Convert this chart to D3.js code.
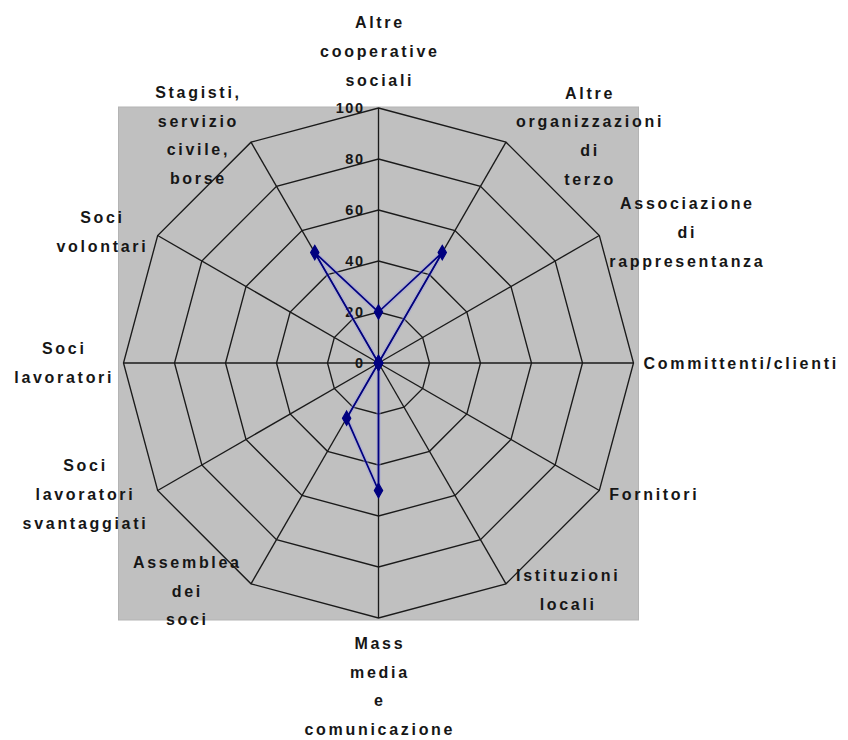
<!DOCTYPE html>
<html>
<head>
<meta charset="utf-8">
<script src="https://cdn.jsdelivr.net/npm/d3@7"></script>
<style>
  html, body { margin: 0; padding: 0; background: #ffffff; }
  svg text { font-family: "Liberation Sans", Arial, sans-serif; font-weight: bold; fill: #161616; }
</style>
</head>
<body>
<svg id="chart" width="848" height="740"></svg>
<script>
// ---- data ----
const categories = [
  ["Altre", "cooperative", "sociali"],
  ["Altre", "organizzazioni", "di", "terzo"],
  ["Associazione", "di", "rappresentanza"],
  ["Committenti/clienti"],
  ["Fornitori"],
  ["Istituzioni", "locali"],
  ["Mass", "media", "e", "comunicazione"],
  ["Assemblea", "dei", "soci"],
  ["Soci", "lavoratori", "svantaggiati"],
  ["Soci", "lavoratori"],
  ["Soci", "volontari"],
  ["Stagisti,", "servizio", "civile,", "borse"]
];
const values = [20, 50, 0, 0, 0, 0, 50, 25, 0, 0, 0, 50];
const tickValues = [0, 20, 40, 60, 80, 100];
const tickLabels = ["0", "20", "40", "60", "80", "100"];

// ---- layout ----
const cx = 378.5, cy = 363, R = 255;
const svg = d3.select("#chart");
const r = d3.scaleLinear().domain([0, 100]).range([0, R]);
const n = categories.length;
const angle = d3.scaleLinear().domain([0, n]).range([0, 2 * Math.PI]);
const g = svg.append("g").attr("transform", `translate(${cx},${cy})`);

// plot area background
g.append("rect")
  .attr("x", -R - 5).attr("y", -R - 1)
  .attr("width", 2 * R + 10).attr("height", 2 * R + 3)
  .attr("fill", "#c0c0c0").attr("stroke", "#b4b4b4").attr("stroke-width", 1);

// grid rings
const ringLine = d3.lineRadial()
  .angle((d, i) => angle(i))
  .radius(d => r(d))
  .curve(d3.curveLinearClosed);
tickValues.filter(v => v > 0).forEach(v => {
  g.append("path")
    .attr("d", ringLine(d3.range(n).map(() => v)))
    .attr("fill", "none").attr("stroke", "#1a1a1a").attr("stroke-width", 1.35);
});

// spokes
d3.range(n).forEach(i => {
  const a = angle(i);
  g.append("line")
    .attr("x1", 0).attr("y1", 0)
    .attr("x2", r(100) * Math.sin(a)).attr("y2", -r(100) * Math.cos(a))
    .attr("stroke", "#1a1a1a").attr("stroke-width", 1.35);
});

// tick labels along the first axis
g.selectAll("text.tick").data(tickValues).enter().append("text")
  .attr("class", "tick")
  .attr("x", -14).attr("y", d => -r(d))
  .attr("dy", "0.36em")
  .attr("text-anchor", "end")
  .attr("font-size", 14.5)
  .attr("letter-spacing", "1.5px")
  .text((d, i) => tickLabels[i]);

// data series
const seriesLine = d3.lineRadial()
  .angle((d, i) => angle(i))
  .radius(d => r(d))
  .curve(d3.curveLinearClosed);
g.append("path")
  .attr("d", seriesLine(values))
  .attr("fill", "none").attr("stroke", "#9a9ae0").attr("stroke-width", 4.5).attr("opacity", 0.4);
g.append("path")
  .attr("d", seriesLine(values))
  .attr("fill", "none").attr("stroke", "#000080").attr("stroke-width", 1.7);
const diamond = d3.symbol().type(d3.symbolDiamond).size(60);
g.selectAll("path.marker").data(values).enter().append("path")
  .attr("class", "marker")
  .attr("d", diamond)
  .attr("transform", (d, i) => {
    const a = angle(i);
    return `translate(${r(d) * Math.sin(a)},${-r(d) * Math.cos(a)})`;
  })
  .attr("fill", "#000080").attr("stroke", "#000080").attr("stroke-width", 1.2);

// category labels
const lineH = 28.8;
const ls = 2.7;
categories.forEach((lines, i) => {
  const a = angle(i);
  const vx = r(100) * Math.sin(a), vy = -r(100) * Math.cos(a);
  const lg = g.append("g");
  const t = lg.append("text")
    .attr("text-anchor", "middle")
    .attr("font-size", 16)
    .attr("letter-spacing", ls + "px");
  lines.forEach((s, k) => {
    t.append("tspan").attr("x", ls / 2).attr("y", k * lineH).attr("dy", "0.36em").text(s);
  });
  const bb = t.node().getBBox();
  const w = bb.width - ls;
  const hBlock = (lines.length - 1) * lineH;
  const sx = Math.sin(a), cs = Math.cos(a);
  let tx, ty;
  if (Math.abs(sx) < 0.01) {
    tx = vx;
    ty = cs > 0 ? vy - 28 - hBlock : vy + 25;
  } else if (sx > 0) {
    tx = vx + 10 + w / 2;
    ty = vy - hBlock / 2 - 7 * cs;
  } else {
    tx = vx - 12 - w / 2;
    ty = vy - hBlock / 2 - 8 * cs;
  }
  lg.attr("transform", `translate(${tx},${ty})`);
});
</script>
</body>
</html>
